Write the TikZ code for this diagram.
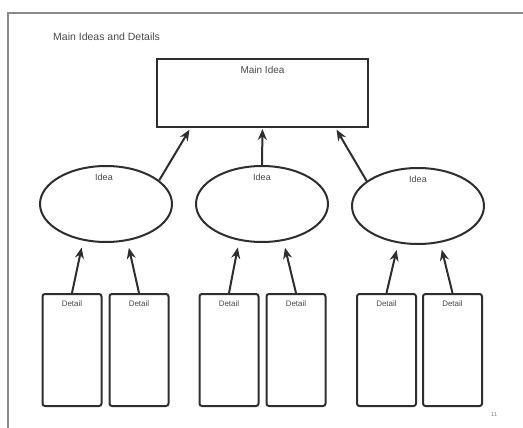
\documentclass[tikz,border=0pt]{standalone}
\usepackage{fontspec}
\setmainfont{Liberation Sans}
\usetikzlibrary{arrows.meta,shapes.geometric}
\definecolor{ink}{HTML}{2E2E2E}
\definecolor{frame}{HTML}{8A8A8A}
\definecolor{label}{HTML}{4A4A4A}
\begin{document}
\begin{tikzpicture}[x=1pt,y=-1pt,
  shape line/.style={draw=ink,line width=2pt},
  mainbox/.style={shape line,rectangle,minimum width=211pt,minimum height=68pt,inner sep=0pt},
  ideabubble/.style={shape line,ellipse,minimum width=132pt,minimum height=76pt,inner sep=0pt},
  detailbox/.style={shape line,rectangle,rounded corners=2.5pt,minimum width=59pt,minimum height=112pt,inner sep=0pt},
  boxlabel/.style={text=label,font=\fontsize{9}{10}\selectfont,inner sep=0pt},
  link/.style={draw=ink,line width=2pt,-{Stealth[length=11pt,width=9pt]}},
]
\useasboundingbox (0,0) rectangle (523,428);
\fill[white] (0,0) rectangle (523,428);

% page frame
\draw[frame,line width=1.5pt] (8,428) -- (8,13) -- (523,13);

% heading and page number
\node[boxlabel,anchor=west,font=\fontsize{10.5}{12}\selectfont] (title) at (53,37) {Main Ideas and Details};
\node[boxlabel,font=\fontsize{6}{7}\selectfont,text=frame] (page) at (494,414) {11};

% main idea box
\node[mainbox] (m) at (262.5,93) {};
\node[boxlabel,font=\fontsize{10}{12}\selectfont] (mt) at (262.5,70) {Main Idea};

% idea ellipses
\node[ideabubble] (i1) at (106,204) {};
\node[ideabubble] (i2) at (262,204) {};
\node[ideabubble] (i3) at (418,206) {};
\foreach \n/\x/\y in {1/104/177, 2/262/177, 3/418/179}
  \node[boxlabel] (it\n) at (\x,\y) {Idea};

% detail boxes
\foreach \n/\x in {1/72, 2/139, 3/229, 4/296, 5/386.5, 6/452.5}{
  \node[detailbox] (d\n) at (\x,350) {};
  \node[boxlabel,font=\fontsize{8}{9}\selectfont] (dt\n) at (\x,304) {Detail};
}

% ideas point up to the main idea
\draw[link,shorten >=2pt] (i1.24) -- ([xshift=-72pt]m.south);
\draw[link,shorten >=1pt] (i2.north) -- (m.south);
\draw[link,shorten >=2pt] (i3.154) -- ([xshift=73pt]m.south);

% details point up to their idea
\draw[link,shorten >=7pt] (d1.north) -- (i1.238);
\draw[link,shorten >=7pt] (d2.north) -- (i1.300);
\draw[link,shorten >=7pt] (d3.north) -- (i2.238);
\draw[link,shorten >=7pt] (d4.north) -- (i2.300);
\draw[link,shorten >=7pt] (d5.north) -- (i3.242);
\draw[link,shorten >=7pt] (d6.north) -- (i3.301);
\end{tikzpicture}
\end{document}
